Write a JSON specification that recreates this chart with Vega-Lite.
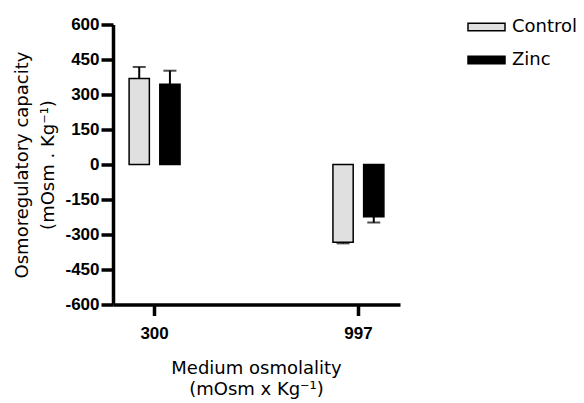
{
  "$schema": "https://vega.github.io/schema/vega-lite/v6.json",
  "autosize": {"type": "none"},
  "padding": {"left": 113, "top": 24.5, "right": 184, "bottom": 98.5},
  "width": 287,
  "height": 280,
  "background": "white",
  "config": {
    "view": {"stroke": null},
    "axisY": {
      "labelExpr": "toString(datum.value)",
      "titleFont": "DejaVu Sans", "titleFontSize": 18, "titleFontWeight": "normal",
      "titleColor": "black", "titleLineHeight": 26,
      "titleX": -86, "titleY": 140, "titleAngle": -90, "titleAlign": "center", "titleBaseline": "alphabetic",
      "labelFont": "Liberation Sans", "labelFontSize": 17, "labelFontWeight": "bold",
      "labelColor": "black", "labelPadding": 2, "labelOverlap": false,
      "domainColor": "black", "domainWidth": 3.5,
      "tickColor": "black", "tickWidth": 3.5, "tickSize": 12,
      "grid": false
    }
  },
  "data": {"values": [
    {"osm": "300", "group": "Control", "value": 369, "err": 418},
    {"osm": "300", "group": "Zinc", "value": 344, "err": 402},
    {"osm": "997", "group": "Control", "value": -333, "err": -338},
    {"osm": "997", "group": "Zinc", "value": -224, "err": -249}
  ]},
  "encoding": {
    "x": {
      "field": "osm", "type": "nominal",
      "scale": {"paddingInner": 0.75, "paddingOuter": 0.079},
      "axis": {
        "title": ["Medium osmolality", "(mOsm x Kg⁻¹)"],
        "titleFont": "DejaVu Sans", "titleFontSize": 18, "titleFontWeight": "normal",
        "titleColor": "black", "titleLineHeight": 21,
        "titleX": 143, "titleY": 68.5, "titleAlign": "center", "titleBaseline": "alphabetic",
        "labelAngle": 0, "labelFont": "Liberation Sans", "labelFontSize": 17, "labelFontWeight": "bold",
        "labelColor": "black", "labelPadding": 10,
        "domainColor": "black", "domainWidth": 3.5,
        "tickColor": "black", "tickWidth": 3.5, "tickSize": 11,
        "grid": false
      }
    },
    "xOffset": {
      "field": "group", "type": "nominal",
      "scale": {"paddingInner": 0.34, "paddingOuter": 0}
    }
  },
  "layer": [
    {
      "mark": {"type": "rule", "color": "black", "strokeWidth": 2},
      "encoding": {
        "y": {
          "field": "value", "type": "quantitative",
          "scale": {"domain": [-600, 600], "nice": false},
          "axis": {
            "values": [-600, -450, -300, -150, 0, 150, 300, 450, 600],
            "title": ["Osmoregulatory capacity", "(mOsm . Kg⁻¹)"]
          }
        },
        "y2": {"field": "err"}
      }
    },
    {
      "mark": {"type": "tick", "color": "black", "size": 13, "thickness": 2},
      "encoding": {
        "y": {
          "field": "err", "type": "quantitative",
          "scale": {"domain": [-600, 600], "nice": false},
          "axis": {
            "values": [-600, -450, -300, -150, 0, 150, 300, 450, 600],
            "title": ["Osmoregulatory capacity", "(mOsm . Kg⁻¹)"]
          }
        }
      }
    },
    {
      "mark": {"type": "bar", "stroke": "black", "strokeWidth": 1.5},
      "encoding": {
        "y": {
          "field": "value", "type": "quantitative",
          "scale": {"domain": [-600, 600], "nice": false},
          "axis": {
            "values": [-600, -450, -300, -150, 0, 150, 300, 450, 600],
            "title": ["Osmoregulatory capacity", "(mOsm . Kg⁻¹)"]
          }
        },
        "fill": {
          "field": "group", "type": "nominal",
          "scale": {"domain": ["Control", "Zinc"], "range": ["#e0e0e0", "#000000"]},
          "legend": {
            "title": null, "orient": "none", "legendX": 354, "legendY": -17,
            "padding": 0,
            "symbolType": "M-1,-0.2H1V0.2H-1Z", "symbolSize": 1369,
            "symbolStrokeColor": "black", "symbolStrokeWidth": 1.5,
            "labelFont": "DejaVu Sans", "labelFontSize": 18, "labelColor": "black",
            "labelOffset": 6, "rowPadding": 4
          }
        }
      }
    },
    {
      "mark": {"type": "rule", "color": "black", "strokeWidth": 4},
      "encoding": {
        "y": {
          "datum": 0, "type": "quantitative",
          "scale": {"domain": [-600, 600], "nice": false},
          "axis": {
            "values": [-600, -450, -300, -150, 0, 150, 300, 450, 600],
            "title": ["Osmoregulatory capacity", "(mOsm . Kg⁻¹)"]
          }
        }
      }
    }
  ]
}
